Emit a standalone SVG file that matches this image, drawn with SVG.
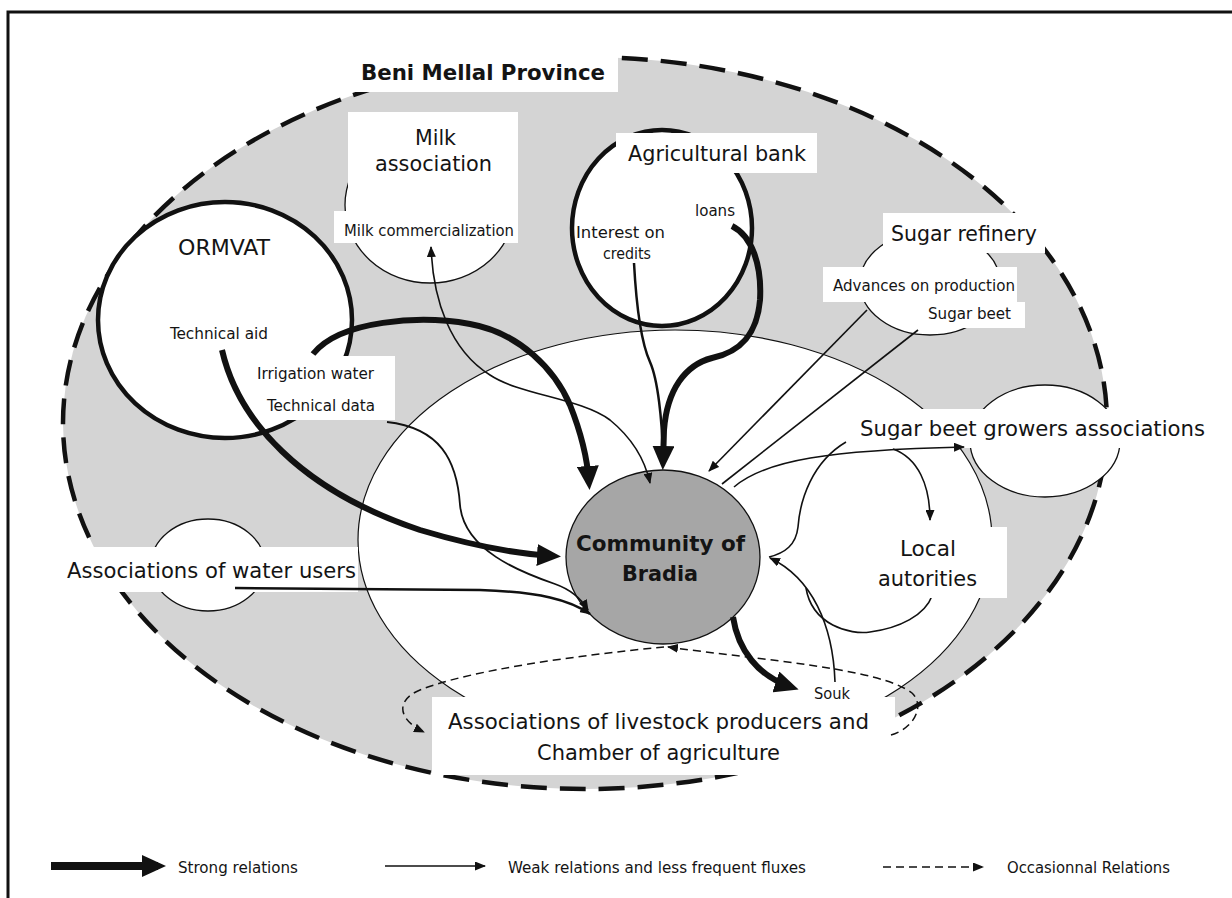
<svg xmlns="http://www.w3.org/2000/svg" width="1232" height="898" viewBox="0 0 1232 898">
<style>
.t{font-family:"DejaVu Sans Condensed","DejaVu Sans",sans-serif;font-size:22px;fill:#141414}
.s{font-size:16px}
.l{font-size:15px}
.b{font-weight:bold}
.box{fill:#fff;stroke:none}
.thin{fill:#fff;stroke:#111;stroke-width:1.3}
.thick{fill:#fff;stroke:#111;stroke-width:4.5}
.strong{fill:none;stroke:#111;stroke-width:6}
.weak{fill:none;stroke:#111;stroke-width:1.6}
.dash{fill:none;stroke:#111;stroke-width:1.5;stroke-dasharray:8 5}
</style>
<defs>
<marker id="ms" viewBox="0 0 24 22" refX="16" refY="11" markerWidth="24" markerHeight="22" markerUnits="userSpaceOnUse" orient="auto"><path d="M0,0 L24,11 L0,22 Z" fill="#111"/></marker>
<marker id="mw" viewBox="0 0 11 9" refX="10" refY="4.5" markerWidth="11" markerHeight="9" markerUnits="userSpaceOnUse" orient="auto-start-reverse"><path d="M0,0 L11,4.5 L0,9 Z" fill="#111"/></marker>
</defs>
<rect width="1232" height="898" fill="#fff"/>
<path d="M8,898 L8,12 L1232,12" fill="none" stroke="#111" stroke-width="3"/>

<g id="province">
<ellipse cx="585" cy="423" rx="522" ry="366" fill="#d4d4d4"/>
<ellipse cx="585" cy="423" rx="522" ry="366" fill="none" stroke="#111" stroke-width="4.5" stroke-dasharray="26 13"/>
<rect class="box" x="350" y="50" width="268" height="42"/>
<text class="t b" x="361" y="80" textLength="244" lengthAdjust="spacingAndGlyphs">Beni Mellal Province</text>
</g>

<g id="local-zone">
<ellipse cx="675" cy="540" rx="317" ry="210" fill="#fff" stroke="#111" stroke-width="1.2"/>
</g>

<g id="ormvat">
<ellipse class="thick" cx="225" cy="320" rx="127" ry="118"/>
<rect class="box" x="251" y="356" width="144" height="64"/>
<text class="t" x="178" y="255" textLength="92" lengthAdjust="spacingAndGlyphs">ORMVAT</text>
<text class="t s" x="170" y="339" textLength="98" lengthAdjust="spacingAndGlyphs">Technical aid</text>
<text class="t s" x="257" y="379" textLength="117" lengthAdjust="spacingAndGlyphs">Irrigation water</text>
<text class="t s" x="267" y="411" textLength="108" lengthAdjust="spacingAndGlyphs">Technical data</text>
</g>

<g id="milk-association">
<ellipse class="thin" cx="430" cy="205" rx="85" ry="78"/>
<rect class="box" x="348" y="112" width="170" height="99"/>
<rect class="box" x="334" y="211" width="184" height="32"/>
<text class="t" x="415" y="145" textLength="41" lengthAdjust="spacingAndGlyphs">Milk</text>
<text class="t" x="375" y="171" textLength="117" lengthAdjust="spacingAndGlyphs">association</text>
<text class="t s" x="344" y="236" textLength="170" lengthAdjust="spacingAndGlyphs">Milk commercialization</text>
</g>

<g id="agricultural-bank">
<ellipse class="thick" cx="662" cy="228" rx="90" ry="98"/>
<rect class="box" x="616" y="133" width="201" height="40"/>
<text class="t" x="628" y="161" textLength="178" lengthAdjust="spacingAndGlyphs">Agricultural bank</text>
<text class="t s" x="576" y="238" textLength="89" lengthAdjust="spacingAndGlyphs">Interest on</text>
<text class="t s" x="603" y="259" textLength="48" lengthAdjust="spacingAndGlyphs">credits</text>
<text class="t s" x="695" y="216" textLength="40" lengthAdjust="spacingAndGlyphs">loans</text>
</g>

<g id="sugar-refinery">
<ellipse class="thin" cx="930" cy="283" rx="70" ry="52"/>
<rect class="box" x="883" y="213" width="162" height="40"/>
<rect class="box" x="823" y="267" width="194" height="35"/>
<rect class="box" x="922" y="302" width="103" height="26"/>
<text class="t" x="891" y="241" textLength="146" lengthAdjust="spacingAndGlyphs">Sugar refinery</text>
<text class="t s" x="833" y="291" textLength="182" lengthAdjust="spacingAndGlyphs">Advances on production</text>
<text class="t s" x="928" y="319" textLength="83" lengthAdjust="spacingAndGlyphs">Sugar beet</text>
</g>

<g id="sugar-beet-growers">
<ellipse class="thin" cx="1045" cy="441" rx="75" ry="56"/>
<rect class="box" x="855" y="409" width="357" height="39"/>
<text class="t" x="860" y="436" textLength="345" lengthAdjust="spacingAndGlyphs">Sugar beet growers associations</text>
</g>

<g id="water-users">
<ellipse class="thin" cx="208" cy="565" rx="57" ry="46"/>
<rect class="box" x="60" y="547" width="298" height="45"/>
<text class="t" x="67" y="578" textLength="289" lengthAdjust="spacingAndGlyphs">Associations of water users</text>
</g>

<g id="local-authorities">
<path class="weak" d="M846,442 C812,462 800,500 798,527 C796,545 785,553 769,557"/>
<path class="weak" d="M806,588 C812,625 850,635 870,632 C900,628 925,615 932,596"/>
<rect class="box" x="873" y="527" width="134" height="71"/>
<text class="t" x="900" y="556" textLength="56" lengthAdjust="spacingAndGlyphs">Local</text>
<text class="t" x="878" y="586" textLength="99" lengthAdjust="spacingAndGlyphs">autorities</text>
</g>

<g id="livestock-chamber">
<rect class="box" x="432" y="697" width="463" height="78"/>
<text class="t" x="448" y="729" textLength="421" lengthAdjust="spacingAndGlyphs">Associations  of livestock producers and</text>
<text class="t" x="537" y="760" textLength="243" lengthAdjust="spacingAndGlyphs">Chamber of agriculture</text>
</g>

<g id="souk">
<text class="t s" x="814" y="699" textLength="36" lengthAdjust="spacingAndGlyphs">Souk</text>
</g>

<g id="community">
<ellipse cx="663" cy="557" rx="97" ry="87" fill="#a6a6a6" stroke="#111" stroke-width="1.3"/>
<text class="t b" x="576" y="551" textLength="169" lengthAdjust="spacingAndGlyphs">Community of</text>
<text class="t b" x="622" y="581" textLength="76" lengthAdjust="spacingAndGlyphs">Bradia</text>
</g>

<g id="connectors">
<path class="strong" d="M222,350 C238,420 300,490 420,530 C480,548 520,554 553,556" marker-end="url(#ms)"/>
<path class="strong" d="M313,354 C340,320 420,315 470,324 C520,333 555,370 570,405 C580,430 587,455 589,482" marker-end="url(#ms)"/>
<path class="weak" d="M431,247 C433,300 450,350 490,375 C520,395 580,398 610,420 C632,438 645,460 650,483" marker-start="url(#mw)" marker-end="url(#mw)"/>
<path class="weak" style="stroke-width:1.8" d="M387,422 C440,428 457,460 460,505 C464,550 520,572 555,584 C572,590 582,600 588,610" marker-end="url(#mw)"/>
<path class="weak" style="stroke-width:2.5" d="M235,588 L480,590 C540,592 570,600 590,614" marker-end="url(#mw)"/>
<path class="weak" style="stroke-width:2.5" d="M634,263 C636,300 640,340 650,362 C658,380 662,420 663,455"/>
<path class="strong" d="M732,226 C752,236 762,265 760,300 C757,335 740,352 712,358 C685,365 667,390 664,430 L663,462" marker-end="url(#ms)"/>
<path class="weak" d="M867,310 L709,471" marker-end="url(#mw)"/>
<path class="weak" d="M918,330 L722,484"/>
<path class="weak" d="M734,487 C765,460 830,450 964,447" marker-end="url(#mw)"/>
<path class="weak" d="M893,449 C918,458 930,485 930,520" marker-end="url(#mw)"/>
<path class="weak" d="M835,682 C833,625 812,578 770,558" marker-end="url(#mw)"/>
<path class="strong" d="M733,617 C738,650 758,676 791,687" marker-end="url(#ms)"/>
<path class="dash" d="M891,735 C915,728 925,705 912,693 C880,668 760,660 668,647" marker-end="url(#mw)"/>
<path class="dash" d="M664,647 C580,655 470,670 420,690 C395,700 398,720 424,732" marker-end="url(#mw)"/>
</g>

<g id="legend">
<path class="strong" style="stroke-width:8" d="M51,866 L158,866" marker-end="url(#ms)"/>
<text class="t l" x="178" y="873" textLength="120" lengthAdjust="spacingAndGlyphs">Strong relations</text>
<path class="weak" d="M385,866 L485,866" marker-end="url(#mw)"/>
<text class="t l" x="508" y="873" textLength="298" lengthAdjust="spacingAndGlyphs">Weak relations and less frequent fluxes</text>
<path class="dash" d="M883,867 L983,867" marker-end="url(#mw)"/>
<text class="t l" x="1007" y="873" textLength="163" lengthAdjust="spacingAndGlyphs">Occasionnal Relations</text>
</g>
</svg>
